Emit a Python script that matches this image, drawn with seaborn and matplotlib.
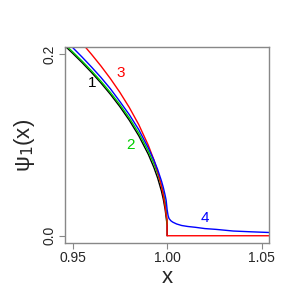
import matplotlib
matplotlib.use("Agg")
import matplotlib.pyplot as plt
import pandas as pd
import seaborn as sns

# ── 数据─────────────────────────────────────────────────
x_black = [0.946, 0.950, 0.955, 0.960, 0.965, 0.970, 0.975, 0.980, 0.985,
           0.990, 0.993, 0.995, 0.997, 0.998, 0.999, 0.9995, 1.000, 1.000]
psi_black = [0.2091, 0.2012, 0.1909, 0.1800, 0.1684, 0.1559, 0.1423, 0.1273, 0.1102,
             0.0900, 0.0753, 0.0636, 0.0493, 0.0402, 0.0285, 0.0201, 0.012, 0.0]

x_green = [0.946, 0.950, 0.955, 0.960, 0.965, 0.970, 0.975, 0.980, 0.985,
           0.990, 0.993, 0.995, 0.997, 0.998, 0.999, 0.9995, 1.000]
psi_green = [0.2107, 0.2028, 0.1926, 0.1818, 0.1703, 0.1579, 0.1446, 0.1298, 0.1131,
             0.0935, 0.0795, 0.0685, 0.0555, 0.0476, 0.0370, 0.0280, 0.013]

x_red = [0.9560, 0.960, 0.965, 0.970, 0.975, 0.980, 0.985, 0.990, 0.993,
         0.995, 0.997, 0.998, 0.999, 0.9995, 1.000, 1.000, 1.054]
psi_red = [0.2098, 0.2000, 0.1871, 0.1732, 0.1581, 0.1414, 0.1225, 0.1000, 0.0837,
           0.0707, 0.0548, 0.0447, 0.0316, 0.0230, 0.018, 0.0, 0.0]

x_blue = [0.946, 0.950, 0.955, 0.960, 0.965, 0.970, 0.975, 0.980, 0.985,
          0.990, 0.993, 0.995, 0.997, 0.998, 0.999, 0.9995, 1.000, 1.0005,
          1.001, 1.002, 1.003, 1.005, 1.0077, 1.011, 1.015, 1.020, 1.026,
          1.035, 1.045, 1.054]
psi_blue = [0.2150, 0.2075, 0.1970, 0.1860, 0.1745, 0.1620, 0.1480, 0.1335, 0.1170,
            0.0970, 0.0835, 0.0730, 0.0605, 0.0532, 0.0442, 0.0390, 0.0290, 0.0225,
            0.0190, 0.0165, 0.0150, 0.0130, 0.0113, 0.0102, 0.0093, 0.0079, 0.0070,
            0.0052, 0.0043, 0.0036]

curve_labels = ["1", "2", "3", "4"]
label_x = [0.9605, 0.9805, 0.9753, 1.0200]
label_y = [0.168, 0.100, 0.179, 0.0198]
colors = ["black", "#00CD00", "red", "blue"]

x_ticks = [0.95, 1.00, 1.05]
x_ticklabels = ["0.95", "1.00", "1.05"]
y_ticks = [0.0, 0.2]
y_ticklabels = ["0.0", "0.2"]

sns.set_theme(style="white")
plt.rcParams["font.family"] = ["Liberation Sans", "DejaVu Sans"]

fig = plt.figure(figsize=(3, 3), dpi=100)
ax = fig.add_axes([0.217, 0.19, 0.68, 0.653])

series = [(x_black, psi_black), (x_green, psi_green), (x_red, psi_red), (x_blue, psi_blue)]
for (xs, ys), c in zip(series, colors):
    df = pd.DataFrame({"x": xs, "psi": ys})
    sns.lineplot(data=df, x="x", y="psi", sort=False, estimator=None,
                 color=c, linewidth=1.0, ax=ax)

for t, lx, ly, c in zip(curve_labels, label_x, label_y, colors):
    ax.text(lx, ly, t, color=c, fontsize=11, ha="center", va="center")

ax.set_xlim(0.946, 1.054)
ax.set_ylim(-0.008, 0.208)
ax.set_xticks(x_ticks)
ax.set_xticklabels(x_ticklabels, fontsize=10)
ax.set_yticks(y_ticks)
ax.set_yticklabels(y_ticklabels, fontsize=10, rotation=90, va="center")
ax.tick_params(axis="both", direction="out", length=4, width=0.8,
               color="#888888", pad=2, bottom=True, left=True)
for s in ax.spines.values():
    s.set_color("#888888")
    s.set_linewidth(1.0)
ax.grid(False)

ax.set_xlabel("x", fontsize=16, labelpad=1)
ax.set_ylabel(r"ψ$_1$(x)", fontsize=16, labelpad=4)

fig.savefig("out.png", dpi=100)
